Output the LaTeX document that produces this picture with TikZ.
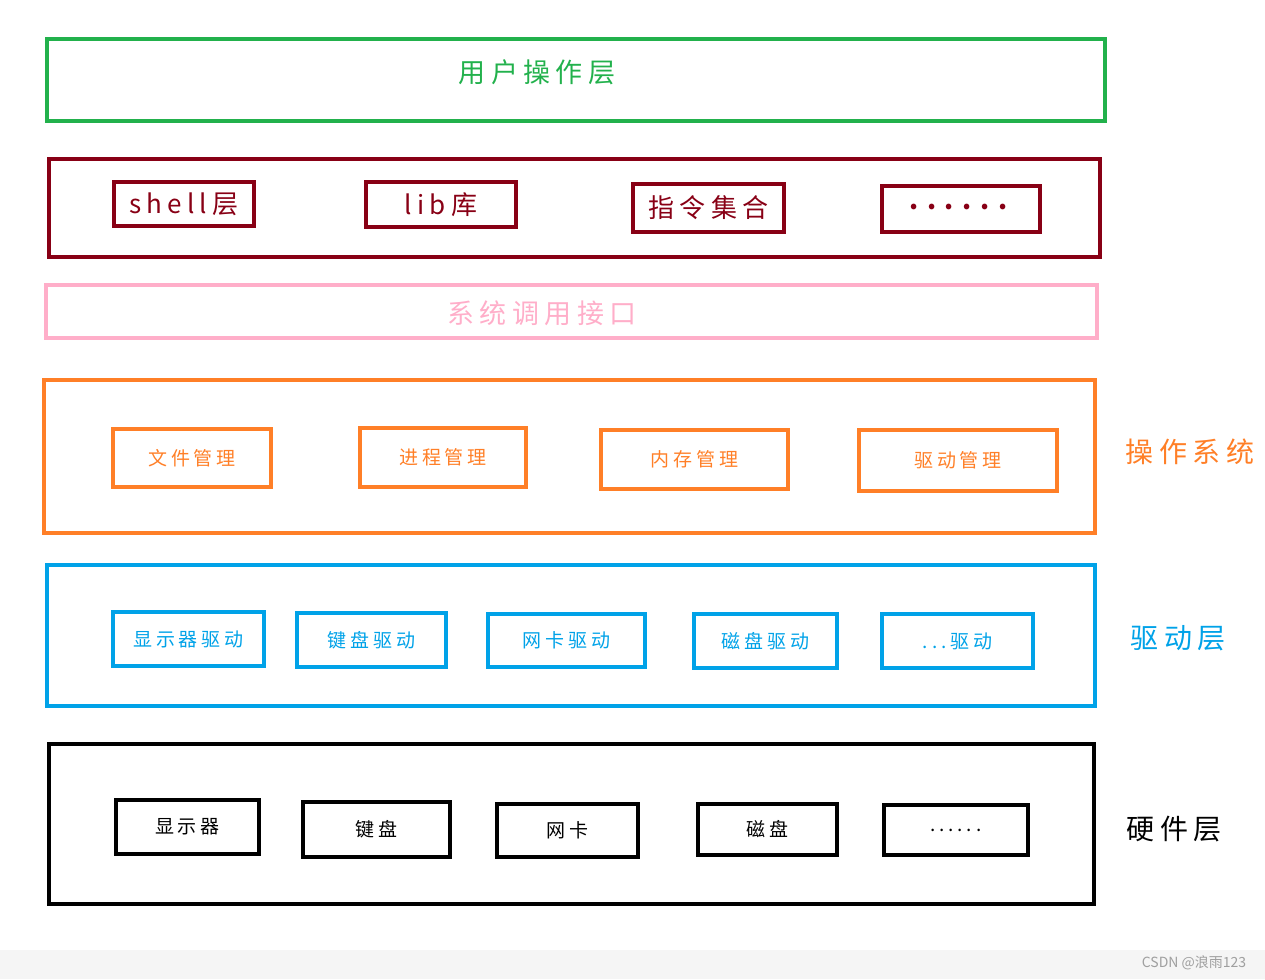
\documentclass[tikz,border=0pt]{standalone}
\usepackage{fontspec}
\setmainfont{Noto Sans CJK SC}
\newfontfamily\spaced[LetterSpace=20]{Noto Sans CJK SC}
\usepackage{tikz}
\usetikzlibrary{positioning}
\definecolor{layergreen}{HTML}{22B14C}
\definecolor{layerred}{HTML}{880015}
\definecolor{layerpink}{HTML}{FFAEC9}
\definecolor{layerorange}{HTML}{FF7F27}
\definecolor{layerblue}{HTML}{00A2E8}
\newcommand{\dotrow}{\raisebox{0.15em}{\textbf{.}\hspace{3.5pt}\textbf{.}\hspace{3.5pt}\textbf{.}\hspace{3.5pt}\textbf{.}\hspace{3.5pt}\textbf{.}\hspace{3.5pt}\textbf{.}}}

\begin{document}
\begin{tikzpicture}[x=1pt,y=-1pt,
  layer/.style={rectangle,draw,line width=4pt,inner sep=0pt},
  item/.style={rectangle,draw,line width=4pt,inner sep=0pt,
               font=\spaced\fontsize{19}{22}\selectfont},
  bigitem/.style={item,font=\spaced\fontsize{26}{30}\selectfont},
  title/.style={font=\spaced\fontsize{27}{32}\selectfont},
  side/.style={anchor=west,font=\spaced\fontsize{28}{34}\selectfont}
]
\useasboundingbox (0,0) rectangle (1265,979);
\fill[black!4] (0,950) rectangle (1265,979);
\node[gray!75,font=\fontsize{14}{16}\selectfont] (mark) at (1194,963) {CSDN @浪雨123};

\node[layer,layergreen,minimum width=1058,minimum height=82] (user) at (576,80) {};
\node[title,layergreen] (usertext) at (537,72) {用户操作层};

\node[layer,layerred,minimum width=1051,minimum height=98] (shellbox) at (574.5,208) {};
\node[bigitem,layerred,minimum width=140,minimum height=44] (shell) at (184,204) {shell层};
\node[bigitem,layerred,minimum width=150,minimum height=45] (lib) at (441,204.5) {lib库};
\node[bigitem,layerred,minimum width=151,minimum height=48] (cmd) at (708.5,208) {指令集合};
\node[bigitem,layerred,minimum width=158,minimum height=46] (moreshell) at (961,209) {\dotrow};

\node[layer,layerpink,line width=3.5pt,minimum width=1051,minimum height=53] (syscall) at (571.5,311.5) {};
\node[title,layerpink] (syscalltext) at (542,313) {系统调用接口};

\node[layer,layerorange,minimum width=1051,minimum height=153] (os) at (569.5,456.5) {};
\node[item,layerorange,minimum width=158,minimum height=58] (file) at (192,458) {文件管理};
\node[item,layerorange,minimum width=166,minimum height=59] (proc) at (443,457.5) {进程管理};
\node[item,layerorange,minimum width=187,minimum height=59] (mem) at (694.5,459.5) {内存管理};
\node[item,layerorange,minimum width=198,minimum height=61] (drvmgr) at (958,460.5) {驱动管理};
\node[side,layerorange] (oslabel) at (1122,452) {操作系统};

\node[layer,layerblue,minimum width=1048,minimum height=141] (drv) at (571,635.5) {};
\node[item,layerblue,minimum width=151,minimum height=54] (dispdrv) at (188.5,639) {显示器驱动};
\node[item,layerblue,minimum width=149,minimum height=54] (kbddrv) at (371.5,640) {键盘驱动};
\node[item,layerblue,minimum width=157,minimum height=53] (netdrv) at (566.5,640.5) {网卡驱动};
\node[item,layerblue,minimum width=143,minimum height=54] (diskdrv) at (765.5,641) {磁盘驱动};
\node[item,layerblue,minimum width=151,minimum height=54] (moredrv) at (957.5,641) {...驱动};
\node[side,layerblue] (drvlabel) at (1127,638) {驱动层};

\node[layer,black,minimum width=1045,minimum height=160] (hw) at (571.5,824) {};
\node[item,black,minimum width=143,minimum height=54] (disp) at (187.5,827) {显示器};
\node[item,black,minimum width=147,minimum height=55] (kbd) at (376.5,829.5) {键盘};
\node[item,black,minimum width=141,minimum height=53] (net) at (567.5,830.5) {网卡};
\node[item,black,minimum width=139,minimum height=51] (disk) at (767.5,829.5) {磁盘};
\node[item,black,minimum width=144,minimum height=50] (morehw) at (956,830) {......};
\node[side,black] (hwlabel) at (1123,829) {硬件层};
\end{tikzpicture}
\end{document}
